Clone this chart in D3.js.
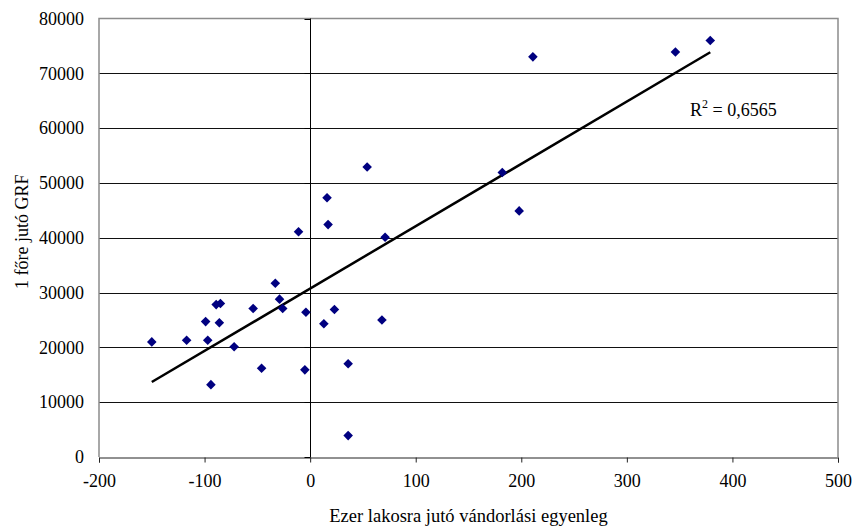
<!DOCTYPE html>
<html>
<head>
<meta charset="utf-8">
<script src="https://cdn.jsdelivr.net/npm/d3@7"></script>
<style>
  body { margin: 0; background: #fff; }
  svg { display: block; font-family: "Liberation Serif", "Times New Roman", serif; }
</style>
</head>
<body>
<script>
// Ezer lakosra jutó vándorlási egyenleg (x) vs 1 főre jutó GRF (y)
var migX = [-150, -117, -97, -99, -86, -89, -85, -94, -72, -54, -46, -33, -29, -26, -4, -5,
            13, 23, 54, 16, 17, -11, 71, 68, 36, 36, 211, 346, 379, 182, 198];
var grfY = [21000, 21300, 21300, 24700, 24500, 27800, 28000, 13200, 20100, 27100, 16200, 31700, 28800, 27100, 26400, 15900,
            24300, 26900, 52900, 47300, 42400, 41100, 40100, 25000, 17000, 3900, 73000, 73900, 76000, 51900, 44900];
var xTicks = [-200, -100, 0, 100, 200, 300, 400, 500];
var yTicks = [0, 10000, 20000, 30000, 40000, 50000, 60000, 70000, 80000];
var r2Label = '0,6565';

var width = 854, height = 530;
var margin = {top: 18.5, right: 16, bottom: 73, left: 99};
var iw = width - margin.left - margin.right;
var ih = height - margin.top - margin.bottom;

var svg = d3.select('body').append('svg')
  .attr('width', width).attr('height', height);

var x = d3.scaleLinear().domain([-200, 500]).range([margin.left, margin.left + iw]);
var y = d3.scaleLinear().domain([0, 80000]).range([margin.top + ih, margin.top]);

// Horizontal gridlines
svg.append('g').selectAll('line').data(yTicks.slice(1, -1)).enter().append('line')
  .attr('x1', x(-200)).attr('x2', x(500))
  .attr('y1', function(d){ return Math.round(y(d)) + 0.5; })
  .attr('y2', function(d){ return Math.round(y(d)) + 0.5; })
  .attr('stroke', '#111').attr('stroke-width', 1);

// Plot area border (left, top, right)
var b = svg.append('g').attr('stroke', '#8c8c8c').attr('stroke-width', 1.5).attr('fill', 'none');
b.append('path').attr('d',
  'M' + x(-200) + ',' + y(0) + 'V' + y(80000) + 'H' + x(500) + 'V' + y(0));

// X axis (bottom)
var xAxis = svg.append('g')
  .attr('transform', 'translate(0,' + (Math.round(y(0)) + 0.5) + ')')
  .call(d3.axisBottom(x).tickValues(xTicks).tickSize(5).tickPadding(12).tickFormat(String));
xAxis.select('.domain').attr('stroke', '#222');
xAxis.selectAll('.tick line').attr('stroke', '#222');
xAxis.selectAll('text').attr('font-size', '18px').attr('fill', '#000')
  .style('font-family', '"Liberation Serif", serif');

// Y tick labels (left of plot)
svg.append('g').selectAll('text').data(yTicks).enter().append('text')
  .attr('x', x(-200) - 15)
  .attr('y', function(d){ return y(d); })
  .attr('dy', '0.35em')
  .attr('text-anchor', 'end')
  .attr('font-size', '18px')
  .text(function(d){ return d; });

// Vertical axis through x = 0
var zx = Math.round(x(0)) + 0.5;
svg.append('line').attr('x1', zx).attr('x2', zx)
  .attr('y1', y(80000)).attr('y2', y(0))
  .attr('stroke', '#000').attr('stroke-width', 1);
svg.append('g').selectAll('line').data(yTicks).enter().append('line')
  .attr('x1', zx - 6).attr('x2', zx)
  .attr('y1', function(d){ return Math.round(y(d)) + 0.5; })
  .attr('y2', function(d){ return Math.round(y(d)) + 0.5; })
  .attr('stroke', '#000');

// Linear trend line (least squares)
var n = migX.length;
var mx = d3.mean(migX), my = d3.mean(grfY);
var sxy = 0, sxx = 0;
for (var i = 0; i < n; i++) {
  sxy += (migX[i] - mx) * (grfY[i] - my);
  sxx += (migX[i] - mx) * (migX[i] - mx);
}
var slope = sxy / sxx;
var icpt = my - slope * mx;
var ext = d3.extent(migX);
svg.append('line')
  .attr('x1', x(ext[0])).attr('y1', y(icpt + slope * ext[0]))
  .attr('x2', x(ext[1])).attr('y2', y(icpt + slope * ext[1]))
  .attr('stroke', '#000').attr('stroke-width', 2.5);

// Points (diamonds)
var diamond = d3.symbol().type(d3.symbolSquare).size(46);
svg.append('g').selectAll('path').data(d3.range(n)).enter().append('path')
  .attr('d', diamond)
  .attr('transform', function(i){ return 'translate(' + x(migX[i]) + ',' + y(grfY[i]) + ') rotate(45)'; })
  .attr('fill', '#000080');

// R² label
var rt = svg.append('text').attr('x', 690).attr('y', 116).attr('font-size', '18px');
rt.append('tspan').text('R');
rt.append('tspan').attr('dy', -8).attr('font-size', '12px').text('2');
rt.append('tspan').attr('dy', 8).text(' = ' + r2Label);

// Axis titles
svg.append('text')
  .attr('x', margin.left + iw / 2).attr('y', 522)
  .attr('text-anchor', 'middle').attr('font-size', '18.5px')
  .text('Ezer lakosra jutó vándorlási egyenleg');
svg.append('text')
  .attr('transform', 'translate(28,' + (margin.top + ih / 2 - 6) + ') rotate(-90)')
  .attr('text-anchor', 'middle').attr('font-size', '18px')
  .text('1 főre jutó GRF');
</script>
</body>
</html>
